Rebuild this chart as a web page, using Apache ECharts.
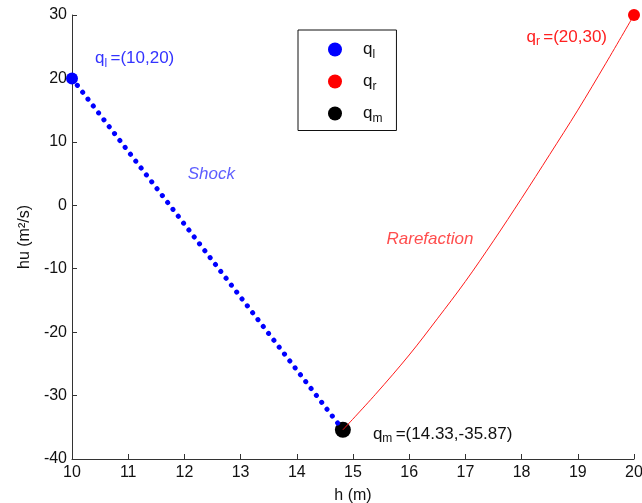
<!DOCTYPE html>
<html><head><meta charset="utf-8">
<script src="https://cdn.jsdelivr.net/npm/echarts@6/dist/echarts.min.js"></script>
<style>html,body{margin:0;padding:0;background:#fff}#c{width:642px;height:503px}</style>
</head><body><div id="c"></div>
<script>
// ---- data ----
const hTicks = [10, 11, 12, 13, 14, 15, 16, 17, 18, 19, 20];
const huTicks = [-40, -30, -20, -10, 0, 10, 20, 30];
const shockH = [10, 14.82];
const shockHU = [20, -35.4];
const rareH = [14.82, 15.4, 16.0, 16.5, 17.0, 17.5, 18.0, 18.5, 19.0, 19.5, 20];
const rareHU = [-35.4, -29.8, -23.6, -17.9, -12.0, -5.6, 1.1, 8.0, 15.0, 22.4, 30];
const qL = [10, 20];
const qR = [20, 30];
const qM = [14.82, -35.4];
const qLText = '(10,20)';
const qRText = '(20,30)';
const qMText = '(14.33,-35.87)';
const shockLabel = {name: 'Shock', h: 12.48, hu: 4.9};
const rareLabel = {name: 'Rarefaction', h: 16.37, hu: -5.4};

const FONT = '"Liberation Sans", Arial, sans-serif';
const zip = (a, b) => a.map((v, i) => [v, b[i]]);

function subRich(color, size) {
  return {
    q: {fontSize: size, color: color, fontFamily: FONT},
    s: {fontSize: Math.round(size * 0.68), color: color, fontFamily: FONT, padding: [10, 0, 0, 0]},
    t: {fontSize: size, color: color, fontFamily: FONT}
  };
}

const chart = echarts.init(document.getElementById('c'), null, {renderer: 'canvas'});
chart.setOption({
  animation: false,
  backgroundColor: '#fff',
  grid: {left: 72, right: 8, top: 15, bottom: 44, containLabel: false, outerBoundsMode: 'none'},
  xAxis: {
    type: 'value', min: hTicks[0], max: hTicks[hTicks.length - 1], interval: 1,
    name: 'h (m)', nameLocation: 'middle', nameGap: 29,
    nameTextStyle: {fontFamily: FONT, fontSize: 16, color: '#111'},
    axisLine: {show: true, onZero: false, lineStyle: {color: '#333', width: 1}},
    axisTick: {show: true, inside: true, length: 5, lineStyle: {color: '#333'}},
    axisLabel: {fontFamily: FONT, fontSize: 16, color: '#111', margin: 6},
    splitLine: {show: false}
  },
  yAxis: {
    type: 'value', min: huTicks[0], max: huTicks[huTicks.length - 1], interval: 10,
    name: 'hu (m²/s)', nameLocation: 'middle', nameGap: 38, nameRotate: 90,
    nameTextStyle: {fontFamily: FONT, fontSize: 16, color: '#111'},
    axisLine: {show: true, onZero: false, lineStyle: {color: '#333', width: 1}},
    axisTick: {show: true, inside: true, length: 5, lineStyle: {color: '#333'}},
    axisLabel: {fontFamily: FONT, fontSize: 16, color: '#111', margin: 5},
    splitLine: {show: false}
  },
  legend: {
    orient: 'vertical', left: 298, top: 30,
    data: ['ql', 'qr', 'qm'],
    backgroundColor: '#fff', borderColor: '#111', borderWidth: 1, borderRadius: 0,
    padding: [11, 14, 6, 30],
    itemWidth: 14, itemHeight: 14, itemGap: 12.5,
    icon: 'circle',
    formatter: function (n) { return '{q|q}{s|' + n.slice(1) + '}'; },
    textStyle: {padding: [0, 0, 0, 16], rich: subRich('#111', 17)}
  },
  series: [
    {
      name: 'shock', type: 'line', data: zip(shockH, shockHU), z: 5,
      symbol: 'none', silent: true,
      lineStyle: {color: '#0000ff', width: 5, type: [0.1, 8.6], cap: 'round'}
    },
    {
      name: 'rare', type: 'line', data: zip(rareH, rareHU), z: 5,
      symbol: 'none', smooth: 0.35, silent: true,
      lineStyle: {color: '#ff1a1a', width: 1}
    },
    {
      name: 'ql', type: 'scatter', data: [qL], symbolSize: 12, z: 6,
      itemStyle: {color: '#0000ff', opacity: 1},
      label: {show: true, position: 'right', distance: 17, offset: [0, -20],
        formatter: '{q|q}{s|l} {t|=' + qLText + '}', rich: subRich('#3333ff', 17)}
    },
    {
      name: 'qr', type: 'scatter', data: [qR], symbolSize: 12, z: 6,
      itemStyle: {color: '#ff0000', opacity: 1},
      label: {show: true, position: 'left', distance: 21, offset: [0, 22],
        formatter: '{q|q}{s|r} {t|=' + qRText + '}', rich: subRich('#ff2020', 17)}
    },
    {
      name: 'qm', type: 'scatter', data: [qM], symbolSize: 16, z: 3,
      itemStyle: {color: '#000', opacity: 1},
      label: {show: true, position: 'right', distance: 22, offset: [0, 4],
        formatter: '{q|q}{s|m} {t|=' + qMText + '}', rich: subRich('#111', 17)}
    },
    {
      name: 'notes', type: 'scatter', symbolSize: 0, silent: true, z: 7,
      data: [
        {value: [shockLabel.h, shockLabel.hu], label: {formatter: shockLabel.name, color: '#3333ff'}},
        {value: [rareLabel.h, rareLabel.hu], label: {formatter: rareLabel.name, color: '#ff2020'}}
      ],
      label: {show: true, position: 'inside', fontFamily: FONT, fontSize: 17, fontStyle: 'italic'}
    }
  ]
});
</script></body></html>
